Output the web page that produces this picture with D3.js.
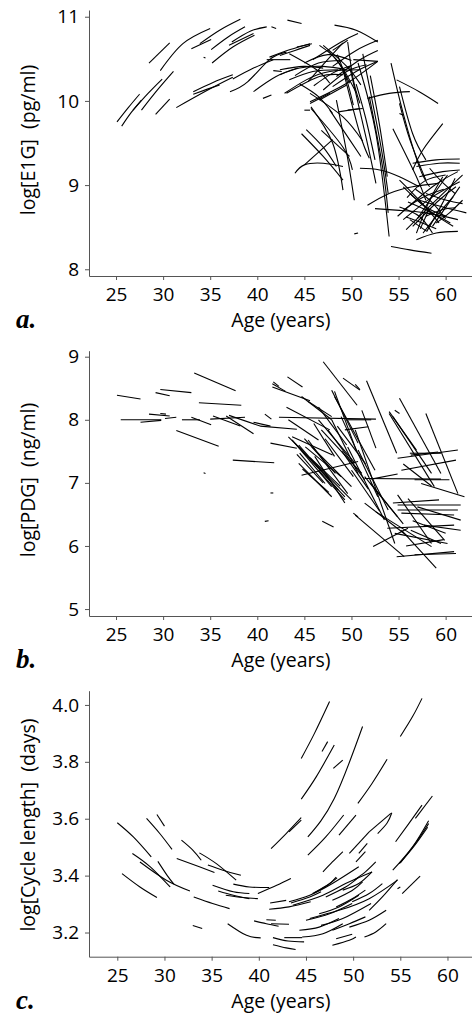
<!DOCTYPE html>
<html>
<head>
<meta charset="utf-8">
<script src="https://cdnjs.cloudflare.com/ajax/libs/d3/7.8.5/d3.min.js"></script>
<style>
  body { margin: 0; background: #fff; }
  .tick text { font-family: "Open Sans", sans-serif; font-size: 19px; fill: #000; }
  .axis path, .axis line { stroke: #555; }
  .title { font-family: "Open Sans", sans-serif; font-size: 19.5px; fill: #000; }
  .letter { font-family: "Liberation Serif", serif; font-weight: bold; font-style: italic; font-size: 27px; }
  .traj { fill: none; stroke: #000; }
</style>
</head>
<body>
<div id="chart"></div>
<script>
// tick labels
var ageTicks = [25, 30, 35, 40, 45, 50, 55, 60];
var e1gTicks = [8, 9, 10, 11];
var pdgTicks = [5, 6, 7, 8, 9];
var cycleTicks = [3.2, 3.4, 3.6, 3.8, 4.0];

// a. fitted E1G trajectories, [age, log E1G] points
var e1gSegments = [
  [[25.1,9.75],[26.3,9.92],[27.5,10.08]],
  [[25.6,9.70],[26.6,9.86],[27.7,10.01]],
  [[26.8,9.89],[28.4,10.09],[29.9,10.26]],
  [[27.7,9.89],[29.4,10.13],[31.1,10.35]],
  [[29.2,9.84],[30.7,10.02]],
  [[28.5,10.45],[30.7,10.69]],
  [[29.7,10.36],[32.1,10.68],[35.0,10.86]],
  [[33.0,10.62],[35.1,10.73]],
  [[33.9,10.68],[36.0,10.84],[38.2,10.97]],
  [[35.1,10.61],[36.9,10.76],[38.7,10.88]],
  [[35.2,10.45],[37.4,10.64],[39.7,10.78]],
  [[37.0,10.66],[39.6,10.80]],
  [[37.3,10.70],[39.3,10.83],[41.0,10.88]],
  [[41.5,10.88],[42.0,10.86]],
  [[43.2,10.96],[44.7,10.92]],
  [[48.2,10.90],[50.5,10.84],[52.8,10.70]],
  [[34.3,10.52],[34.5,10.51]],
  [[31.4,9.92],[34.6,10.12],[37.4,10.28]],
  [[33.2,10.08],[34.7,10.14],[36.0,10.19]],
  [[33.2,10.11],[35.3,10.22],[37.4,10.31]],
  [[37.1,10.11],[39.0,10.23],[41.3,10.49],[43.1,10.58]],
  [[39.6,10.11],[42.0,10.29],[44.3,10.39]],
  [[37.4,10.26],[39.6,10.39],[41.7,10.49]],
  [[40.6,10.03],[41.5,10.07]],
  [[41.0,10.49],[43.5,10.49]],
  [[41.3,10.52],[43.5,10.61],[45.6,10.68]],
  [[41.7,10.36],[42.6,10.35]],
  [[42.4,10.54],[44.0,10.60],[45.6,10.66]],
  [[44.2,10.64],[45.8,10.68]],
  [[42.4,10.37],[44.9,10.41],[47.0,10.39]],
  [[42.4,10.31],[44.5,10.39],[47.0,10.41],[49.5,10.37]],
  [[42.9,10.09],[45.2,10.25],[47.7,10.35],[50.9,10.37]],
  [[43.1,10.09],[46.6,10.29],[49.1,10.31]],
  [[43.4,10.25],[45.9,10.35],[48.6,10.37]],
  [[44.0,10.30],[46.5,10.45],[49.0,10.48]],
  [[45.0,10.45],[47.5,10.55],[50.0,10.48]],
  [[46.0,10.18],[48.0,10.33],[50.0,10.42]],
  [[47.5,10.60],[49.0,10.40],[50.5,10.10]],
  [[48.5,10.55],[49.5,10.25],[50.2,9.95]],
  [[44.5,10.20],[46.5,10.05],[48.0,9.85]],
  [[45.6,9.99],[49.5,10.21],[52.8,10.47]],
  [[47.0,10.66],[49.5,10.41],[51.0,10.19]],
  [[49.6,10.70],[50.2,10.25],[50.9,9.97]],
  [[49.1,10.69],[47.3,10.47],[45.4,10.23]],
  [[48.6,9.87],[50.9,9.91]],
  [[45.0,9.89],[45.6,9.89]],
  [[46.6,10.66],[48.4,10.49],[49.8,10.21]],
  [[43.4,10.56],[46.3,10.37],[47.7,10.21]],
  [[45.9,10.49],[48.9,10.70],[50.7,10.80]],
  [[48.0,10.60],[49.6,10.72]],
  [[48.0,10.41],[50.5,10.60],[52.8,10.72]],
  [[48.4,10.29],[50.9,10.49],[52.8,10.60]],
  [[48.0,10.17],[50.5,10.35],[52.8,10.47]],
  [[50.2,10.49],[52.8,10.47]],
  [[46.6,10.01],[49.5,10.19]],
  [[45.6,9.97],[47.7,10.09]],
  [[47.0,10.13],[49.5,10.35],[51.6,10.43]],
  [[45.6,10.09],[49.1,9.81],[51.2,9.52]],
  [[46.8,9.65],[49.8,9.34]],
  [[45.7,9.93],[48.0,9.50],[49.1,8.94]],
  [[45.7,9.91],[49.1,9.45],[50.1,9.18]],
  [[44.7,9.61],[47.0,9.34],[49.1,9.06]],
  [[45.2,9.66],[47.0,9.45],[48.4,9.22]],
  [[44.0,9.14],[45.0,9.24],[47.0,9.26],[49.1,9.22]],
  [[45.0,9.24],[48.0,9.54]],
  [[47.7,9.89],[49.8,9.54],[51.0,9.34]],
  [[48.4,10.01],[49.5,9.38],[50.3,8.82]],
  [[49.1,10.37],[50.9,9.61],[51.9,9.32]],
  [[49.8,10.41],[51.6,9.54],[52.6,9.02]],
  [[50.5,10.20],[51.5,9.80],[52.5,9.30]],
  [[50.7,10.45],[52.6,9.61],[54.0,8.39]],
  [[51.2,10.56],[53.0,9.54],[53.9,8.90]],
  [[51.9,10.05],[53.3,9.22],[53.9,8.67]],
  [[52.0,10.30],[53.0,9.70],[53.8,9.10]],
  [[54.2,10.45],[55.5,9.85],[57.2,9.22],[58.3,8.98]],
  [[55.1,9.97],[56.2,9.54],[57.9,9.06]],
  [[54.4,9.67],[56.9,9.10],[57.9,8.82]],
  [[55.1,10.17],[56.5,9.61],[57.9,9.30]],
  [[49.6,9.89],[51.2,9.91]],
  [[51.7,10.03],[54.0,10.09],[56.2,10.11]],
  [[54.8,10.25],[57.2,10.11],[59.2,9.97]],
  [[50.9,9.20],[53.0,9.18],[55.1,9.10],[57.2,8.98]],
  [[51.7,8.76],[54.0,8.90],[56.5,8.98],[59.2,9.02]],
  [[52.5,8.72],[55.1,8.70],[57.9,8.67],[61.3,8.59]],
  [[54.2,8.27],[56.2,8.23],[58.5,8.19]],
  [[56.9,8.35],[59.0,8.43],[61.3,8.45]],
  [[50.3,8.42],[50.7,8.43]],
  [[59.7,9.73],[57.6,9.42],[56.5,9.18]],
  [[55.1,9.85],[55.5,9.83]],
  [[56.5,9.26],[59.0,9.30],[61.5,9.31]],
  [[56.9,9.22],[59.3,9.26],[61.5,9.26]],
  [[54.9,8.63],[58.6,8.98],[61.3,9.16]],
  [[55.5,8.59],[58.6,8.86],[61.5,9.04]],
  [[55.8,8.47],[58.6,8.78],[61.8,9.12]],
  [[56.5,8.51],[59.3,8.82],[61.1,8.98]],
  [[55.1,9.06],[57.2,8.82],[59.3,8.55]],
  [[55.5,8.98],[57.9,8.74],[60.1,8.63]],
  [[56.2,8.90],[58.6,8.67],[60.8,8.51]],
  [[57.2,8.82],[59.7,8.74],[62.2,8.67]],
  [[57.9,8.90],[60.1,8.82],[61.8,8.78]],
  [[57.2,9.10],[59.7,9.16],[61.5,9.18]],
  [[57.9,8.63],[59.7,8.71],[61.1,8.73]],
  [[59.0,8.55],[60.4,8.67],[61.8,8.82]],
  [[56.9,8.43],[58.3,8.82],[59.7,9.10]],
  [[55.1,8.74],[57.2,8.63],[58.6,8.43]],
  [[57.6,8.43],[59.3,8.67],[60.8,8.86]],
  [[58.6,8.51],[60.1,8.75],[61.5,8.98]],
  [[56.2,8.59],[58.0,8.45]],
  [[55.5,8.70],[57.5,8.85],[59.8,8.95]],
  [[56.0,8.80],[58.0,8.70],[60.5,8.55]],
  [[56.8,8.95],[58.5,8.80],[60.0,8.60]],
  [[55.8,8.62],[57.5,8.55],[59.0,8.48]],
  [[57.0,8.60],[58.8,8.90],[60.2,9.12]],
  [[58.0,8.45],[59.5,8.75],[61.0,9.08]],
  [[57.3,8.48],[58.2,8.70]],
  [[55.9,8.85],[57.8,9.05],[60.0,9.12]],
  [[58.3,9.20],[59.5,9.05],[61.0,8.90]]
];

// b. fitted PDG trajectories, [age, log PDG] points
var pdgSegments = [
  [[25.1,8.39],[27.6,8.33]],
  [[25.5,8.00],[29.8,8.00]],
  [[27.6,7.96],[29.8,7.99]],
  [[28.5,8.09],[30.7,8.06]],
  [[29.2,8.43],[30.7,8.38]],
  [[29.7,8.48],[33.0,8.43]],
  [[29.7,8.10],[30.3,8.09]],
  [[30.2,8.02],[31.4,8.04]],
  [[32.0,8.00],[33.9,8.00]],
  [[33.0,8.04],[35.1,7.92]],
  [[33.3,8.74],[37.7,8.46]],
  [[33.8,8.27],[38.3,8.23]],
  [[31.4,7.83],[35.9,7.58]],
  [[35.0,8.01],[38.7,8.04]],
  [[35.3,8.06],[38.2,7.90]],
  [[36.7,8.06],[39.6,7.78]],
  [[37.0,8.07],[40.3,7.90]],
  [[37.4,7.36],[41.8,7.32]],
  [[34.3,7.16],[34.5,7.15]],
  [[39.6,7.96],[41.4,7.90]],
  [[40.8,8.09],[41.5,8.01]],
  [[41.6,8.57],[43.0,8.45]],
  [[41.6,8.52],[45.6,8.30]],
  [[41.7,8.60],[42.3,8.53]],
  [[43.1,8.20],[47.7,7.84]],
  [[43.2,8.68],[44.8,8.52]],
  [[40.3,7.90],[44.2,7.85]],
  [[41.4,7.63],[44.2,7.55]],
  [[40.8,6.39],[41.2,6.40]],
  [[41.4,6.84],[41.7,6.84]],
  [[42.3,8.04],[52.6,8.01]],
  [[43.7,7.73],[48.0,7.44]],
  [[46.9,6.39],[48.1,6.30]],
  [[47.0,8.92],[50.6,8.23]],
  [[49.1,8.66],[50.9,8.47]],
  [[50.4,8.56],[50.9,8.48]],
  [[51.6,8.62],[54.8,7.47]],
  [[48.2,8.45],[50.5,7.52]],
  [[43.3,7.73],[50.0,6.73]],
  [[43.7,7.68],[47.9,6.94]],
  [[44.0,7.63],[49.3,6.78]],
  [[44.4,7.60],[48.6,6.89]],
  [[44.4,7.31],[47.9,6.78]],
  [[44.7,7.12],[50.7,7.34]],
  [[44.5,7.47],[47.2,6.99]],
  [[45.4,7.68],[49.6,6.83]],
  [[45.8,7.57],[50.0,6.94]],
  [[46.5,8.00],[50.4,7.31]],
  [[46.8,7.84],[51.1,7.15]],
  [[47.5,7.84],[51.4,7.05]],
  [[47.9,8.00],[50.7,7.15]],
  [[48.2,8.37],[52.5,7.20]],
  [[48.9,8.05],[52.8,6.78]],
  [[49.6,7.57],[53.5,6.41]],
  [[50.4,7.84],[54.6,6.04]],
  [[50.7,7.52],[53.9,6.57]],
  [[51.4,7.10],[54.9,6.46]],
  [[51.4,6.68],[56.0,6.15]],
  [[52.6,6.54],[58.5,5.99]],
  [[50.2,6.52],[50.7,6.46]],
  [[51.1,8.15],[52.6,7.55]],
  [[49.6,8.00],[52.1,8.00]],
  [[49.3,7.84],[51.8,7.89]],
  [[44.7,8.37],[47.9,8.00]],
  [[45.4,8.29],[47.9,8.05]],
  [[43.3,8.00],[46.5,7.68]],
  [[47.9,8.47],[50.7,7.63]],
  [[46.0,7.94],[48.2,7.42]],
  [[45.1,7.57],[48.9,7.10]],
  [[46.1,7.42],[49.3,6.68]],
  [[46.5,7.20],[49.3,6.73]],
  [[44.2,7.45],[47.0,7.00]],
  [[45.0,7.70],[48.3,7.15]],
  [[45.6,7.40],[48.8,6.95]],
  [[44.8,7.22],[47.6,6.85]],
  [[47.2,7.70],[50.2,7.10]],
  [[48.5,7.90],[51.5,7.30]],
  [[49.0,7.50],[51.8,6.90]],
  [[50.0,7.20],[53.0,6.55]],
  [[46.5,8.20],[49.5,7.60]],
  [[52.0,7.00],[55.5,6.35]],
  [[54.0,8.13],[56.9,7.52]],
  [[55.1,8.34],[59.5,7.15]],
  [[57.9,8.10],[61.3,6.83]],
  [[54.6,8.15],[55.1,8.10]],
  [[54.4,8.05],[58.5,7.15]],
  [[54.0,8.10],[58.8,6.94]],
  [[56.2,7.47],[59.5,7.47]],
  [[56.3,7.44],[59.2,7.49]],
  [[54.9,7.39],[61.3,7.52]],
  [[55.3,7.20],[61.1,7.36]],
  [[55.5,7.30],[58.5,6.95]],
  [[52.1,7.06],[54.9,7.14]],
  [[51.4,7.07],[59.5,7.06]],
  [[56.7,7.05],[60.4,7.05]],
  [[57.4,6.99],[62.0,6.78]],
  [[54.9,6.65],[61.6,6.65]],
  [[54.9,6.57],[61.3,6.57]],
  [[55.3,6.52],[60.9,6.49]],
  [[54.4,6.68],[59.3,6.73]],
  [[53.8,6.28],[60.9,6.33]],
  [[54.6,6.20],[60.2,6.04]],
  [[56.5,6.40],[60.0,6.20]],
  [[52.3,5.99],[56.0,6.28]],
  [[54.8,5.83],[60.9,5.91]],
  [[55.8,6.00],[59.8,6.10]],
  [[56.7,5.86],[61.1,5.88]],
  [[55.3,6.25],[59.0,5.65]],
  [[50.4,6.49],[55.6,5.83]],
  [[54.9,6.81],[58.5,6.04]],
  [[56.0,6.75],[59.9,6.09]],
  [[57.0,6.62],[61.6,6.41]],
  [[56.3,6.25],[59.5,6.04]],
  [[57.7,6.33],[61.6,6.25]]
];

// c. fitted cycle length trajectories, [age, log days] points
var cycleSegments = [
  [[25.0,3.586],[26.7,3.536],[28.6,3.466]],
  [[25.5,3.407],[27.4,3.360],[29.2,3.323]],
  [[26.6,3.478],[28.5,3.431],[30.6,3.360]],
  [[27.4,3.448],[30.2,3.384],[32.7,3.346]],
  [[28.1,3.601],[29.5,3.548],[30.8,3.492]],
  [[29.2,3.615],[30.0,3.574]],
  [[29.3,3.450],[30.3,3.400],[31.0,3.370]],
  [[31.8,3.525],[33.0,3.490],[33.9,3.454]],
  [[33.7,3.480],[35.5,3.442],[37.6,3.384]],
  [[31.3,3.460],[33.7,3.431],[35.3,3.411]],
  [[34.6,3.437],[36.2,3.419],[38.1,3.401]],
  [[33.1,3.325],[35.1,3.302],[36.9,3.284]],
  [[35.1,3.366],[37.3,3.343],[39.0,3.337]],
  [[35.7,3.346],[37.3,3.331],[39.0,3.319]],
  [[37.3,3.370],[39.0,3.360],[41.1,3.358]],
  [[36.5,3.331],[38.3,3.323],[39.9,3.319]],
  [[33.0,3.225],[34.0,3.214]],
  [[36.7,3.231],[38.7,3.190],[40.2,3.181]],
  [[39.5,3.241],[40.8,3.231],[42.1,3.222]],
  [[39.9,3.337],[41.9,3.366],[43.4,3.390]],
  [[41.2,3.304],[42.9,3.313]],
  [[41.1,3.282],[43.2,3.290],[45.5,3.308]],
  [[40.8,3.245],[41.8,3.243]],
  [[41.3,3.231],[43.2,3.229]],
  [[41.5,3.182],[43.1,3.170],[44.8,3.167]],
  [[41.5,3.157],[42.9,3.146],[43.9,3.140]],
  [[42.7,3.182],[44.6,3.182]],
  [[43.4,3.304],[45.4,3.325],[46.6,3.343]],
  [[43.2,3.308],[45.4,3.331],[47.8,3.372],[50.6,3.431]],
  [[43.6,3.296],[46.8,3.331],[49.2,3.372],[52.0,3.413]],
  [[45.0,3.243],[47.5,3.266],[49.9,3.302]],
  [[44.3,3.208],[46.4,3.219],[48.5,3.249]],
  [[44.6,3.184],[46.8,3.196],[48.9,3.231]],
  [[47.8,3.155],[49.6,3.173],[50.3,3.184]],
  [[48.2,3.178],[49.9,3.194]],
  [[51.2,3.184],[52.4,3.202],[53.5,3.231]],
  [[45.4,3.249],[48.5,3.278],[51.7,3.319],[54.7,3.384]],
  [[46.6,3.225],[48.9,3.249],[51.9,3.302]],
  [[49.6,3.219],[51.7,3.243],[53.5,3.278]],
  [[49.9,3.308],[51.7,3.337],[53.1,3.372]],
  [[48.9,3.349],[50.6,3.372],[52.0,3.413]],
  [[45.7,3.337],[47.3,3.366],[48.2,3.395]],
  [[45.9,3.340],[47.4,3.370],[48.3,3.392]],
  [[47.1,3.325],[49.2,3.360],[50.6,3.395]],
  [[47.8,3.313],[49.9,3.348],[51.0,3.378]],
  [[48.2,3.290],[49.9,3.319],[51.3,3.349]],
  [[46.4,3.266],[48.5,3.290],[50.6,3.331]],
  [[47.8,3.208],[49.6,3.231],[51.3,3.255]],
  [[46.8,3.413],[47.8,3.448],[48.9,3.484]],
  [[48.5,3.542],[50.3,3.613]],
  [[45.2,3.472],[47.1,3.536],[49.0,3.613]],
  [[49.6,3.478],[51.7,3.554]],
  [[50.3,3.448],[51.3,3.484]],
  [[50.6,3.478],[51.5,3.513]],
  [[51.7,3.554],[54.0,3.619]],
  [[52.6,3.548],[53.6,3.585],[54.1,3.621]],
  [[50.1,3.384],[51.3,3.413],[52.4,3.448]],
  [[51.7,3.278],[53.1,3.325],[54.7,3.386]],
  [[54.2,3.419],[56.3,3.501],[58.0,3.593]],
  [[54.9,3.442],[56.6,3.513],[58.0,3.583]],
  [[55.0,3.445],[56.5,3.505],[57.9,3.570]],
  [[54.5,3.519],[55.9,3.583],[57.3,3.648]],
  [[56.6,3.601],[58.4,3.680]],
  [[55.2,3.337],[57.1,3.398]],
  [[54.7,3.354],[55.0,3.360]],
  [[55.0,3.889],[56.3,3.959],[57.3,4.023]],
  [[50.5,3.654],[52.0,3.724],[53.6,3.809]],
  [[45.2,3.536],[48.0,3.671],[51.0,3.924]],
  [[44.5,3.812],[45.9,3.900],[47.5,4.012]],
  [[46.7,3.836],[47.3,3.871]],
  [[44.5,3.669],[46.1,3.748],[48.0,3.859]],
  [[47.9,3.777],[48.9,3.806]],
  [[41.3,3.495],[42.9,3.548],[44.5,3.604]],
  [[43.2,3.554],[44.5,3.595]]
];

var width = 472, height = 1017;
var svg = d3.select('#chart').append('svg')
  .attr('width', width)
  .attr('height', height);

var panels = [
  { segs: e1gSegments, ticks: e1gTicks, fmt: d3.format('d'), curve: d3.curveNatural,
    domain: [7.92, 11.08], top: 10, bottom: 276, ageDomain: [22.13, 62.8],
    ylabel: 'log[E1G]\u00a0\u00a0(pg/ml)', letter: 'a.', ylabelY: 140 },
  { segs: pdgSegments, ticks: pdgTicks, fmt: d3.format('d'), curve: d3.curveLinear,
    domain: [4.89, 9.095], top: 350.7, bottom: 616, ageDomain: [22.13, 62.8],
    ylabel: 'log[PDG]\u00a0\u00a0(ng/ml)', letter: 'b.', ylabelY: 480 },
  { segs: cycleSegments, ticks: cycleTicks, fmt: d3.format('.1f'), curve: d3.curveNatural,
    domain: [3.115, 4.05], top: 690.7, bottom: 956.7, ageDomain: [22.0, 62.6],
    ylabel: 'log[Cycle length]\u00a0\u00a0(days)', letter: 'c.', ylabelY: 825 }
];

var left = 89, right = 472;

panels.forEach(function(p) {
  var x = d3.scaleLinear().domain(p.ageDomain).range([left, right]);
  var y = d3.scaleLinear().domain(p.domain).range([p.bottom, p.top]);
  var g = svg.append('g');

  // Trajectories
  var line = d3.line()
    .x(function(d) { return x(d[0]); })
    .y(function(d) { return y(d[1]); })
    .curve(p.curve);
  g.selectAll('.traj')
    .data(p.segs)
    .enter()
    .append('path')
    .attr('class', 'traj')
    .attr('stroke-width', 1.1)
    .attr('d', line);

  // Axes
  var xAxis = d3.axisBottom(x).tickValues(ageTicks).tickSize(4).tickPadding(8).tickSizeOuter(0);
  g.append('g').attr('class', 'axis')
    .attr('transform', 'translate(0,' + p.bottom + ')')
    .call(xAxis);
  var yAxis = d3.axisLeft(y).tickValues(p.ticks).tickFormat(p.fmt).tickSize(4).tickPadding(6).tickSizeOuter(0);
  g.append('g').attr('class', 'axis')
    .attr('transform', 'translate(' + left + ',0)')
    .call(yAxis);

  // Titles
  g.append('text')
    .attr('class', 'title')
    .attr('x', 281)
    .attr('y', p.bottom + 51)
    .attr('text-anchor', 'middle')
    .text('Age (years)');
  g.append('text')
    .attr('class', 'title')
    .attr('transform', 'translate(35,' + p.ylabelY + ') rotate(-90)')
    .attr('text-anchor', 'middle')
    .text(p.ylabel);
  g.append('text')
    .attr('class', 'letter')
    .attr('x', 16)
    .attr('y', p.bottom + 52)
    .text(p.letter);
});
</script>
</body>
</html>
